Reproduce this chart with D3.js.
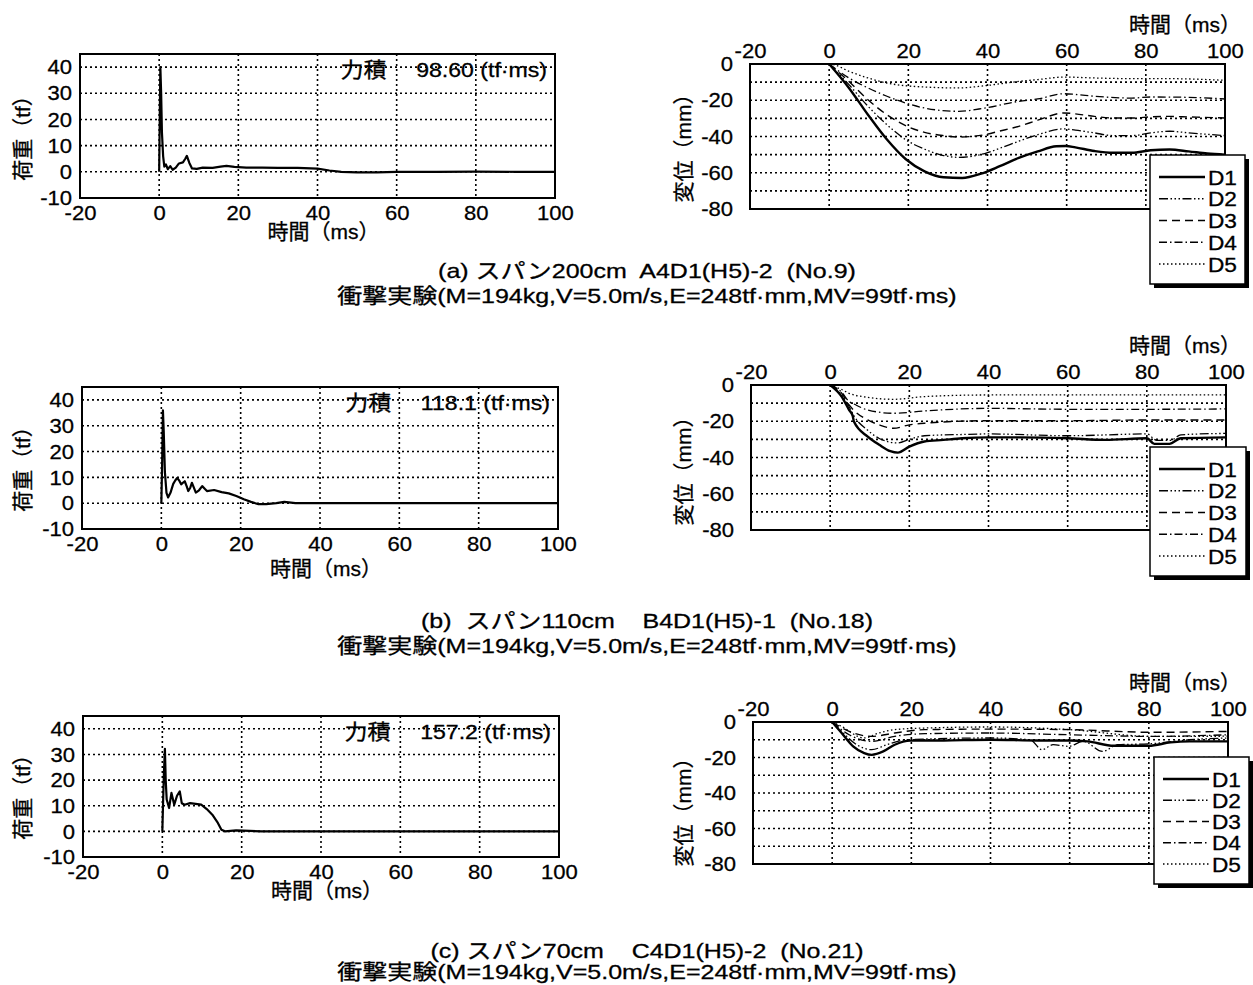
<!DOCTYPE html>
<html><head><meta charset="utf-8">
<script src="https://cdn.jsdelivr.net/npm/d3@7"></script>
<style>
body{margin:0;background:#fff;}
svg text{fill:#000;stroke:#000;stroke-width:0.3px;}
</style></head><body>
<svg id="c" width="1253" height="985"></svg>
<script>
// ---------------- DATA ----------------
const timeTicks = [-20, 0, 20, 40, 60, 80, 100];
const timeGrid = [0, 20, 40, 60, 80];
const loadTicks = [-10, 0, 10, 20, 30, 40];
const loadGrid = [0, 10, 20, 30, 40];
const dispTicks = [0, -20, -40, -60, -80];
const dispGrid = [-10, -20, -30, -40, -50, -60, -70];
const seriesNames = ["D1", "D2", "D3", "D4", "D5"];
const impulseLabels = ["力積　 98.60 (tf·ms)", "力積　 118.1 (tf·ms)", "力積　 157.2 (tf·ms)"];
const captionLine1 = [
  "(a) スパン200cm  A4D1(H5)-2  (No.9)",
  "(b)  スパン110cm    B4D1(H5)-1  (No.18)",
  "(c) スパン70cm    C4D1(H5)-2  (No.21)"
];
const captionLine2 = [
  "衝撃実験(M=194kg,V=5.0m/s,E=248tf·mm,MV=99tf·ms)",
  "衝撃実験(M=194kg,V=5.0m/s,E=248tf·mm,MV=99tf·ms)",
  "衝撃実験(M=194kg,V=5.0m/s,E=248tf·mm,MV=99tf·ms)"
];
const timeTitle = "時間（ms）";
const loadTitle = "荷重（tf）";
const dispTitle = "変位（mm）";

// load (tf) vs time (ms)
const loadA = [[0,0],[0.15,20],[0.3,40],[0.5,30],[0.7,15],[1.0,6],[1.3,2],[1.7,2.8],[2.2,1],[2.8,2.2],[3.4,0.8],[4.2,1.6],[5,3.2],[6,3.6],[6.6,5],[7,6.1],[7.6,3.5],[8.3,1.3],[9.5,1.1],[11,1.6],[13.5,1.5],[15.5,2],[17,2.3],[19,1.9],[22,1.6],[26,1.6],[30,1.5],[35,1.5],[40,1.2],[43,0.5],[46,0],[50,-0.2],[55,-0.2],[60,0],[70,0],[80,0.1],[90,0],[100,0]];
const loadB = [[0,0],[0.2,15],[0.4,36],[0.6,28],[0.9,12],[1.3,4],[1.7,2.2],[2.3,4],[3,7.5],[3.5,8.8],[4,9.8],[4.6,8.5],[5,7.3],[5.5,8],[5.9,8.5],[6.4,6.5],[6.8,4.7],[7.3,6],[7.7,7.9],[8.2,6],[8.7,4.1],[9.5,5],[10.3,6.6],[11,5.5],[11.5,4.7],[13.3,5.1],[15.2,4.3],[17,3.8],[18.9,2.8],[20.8,1.5],[22.6,0.5],[24.5,-0.4],[26.4,-0.4],[29,0],[31,0.5],[33.8,0],[40,0],[60,0],[80,0],[100,0]];
const loadC = [[0,0],[0.2,12],[0.4,22.8],[0.65,32.2],[0.85,20],[1.1,12.4],[1.7,9.1],[2.3,15],[3,10.4],[3.7,13.9],[4.4,15.6],[4.9,11],[5.6,10.4],[7,11],[8.4,10.7],[9.8,10.4],[11.2,8.7],[12.6,6.5],[14,3.3],[14.9,0.65],[15.8,0],[18.6,0.4],[22,0.2],[25,0],[40,0],[60,0],[80,0],[100,0]];

// displacement (mm) vs time (ms)
const dispA_D1 = [[0,0],[5,-13.2],[9.8,-28],[14.6,-41.7],[19.3,-52.4],[24.1,-59.2],[28.9,-62.5],[33.6,-62.9],[38.4,-60.5],[43.1,-56.4],[47.9,-51.8],[52.7,-48.2],[57.4,-45.4],[59.8,-45.2],[62.2,-46],[67,-48],[71.7,-49],[76.5,-49],[81.2,-47.6],[86,-47.2],[90.8,-48.2],[95.5,-49.4],[100,-50]];
const dispA_D2 = [[0,0],[5,-11.4],[9.8,-23.3],[14.6,-33.5],[19.3,-41.7],[24.1,-47],[28.9,-50.5],[32.7,-51.5],[39.3,-49.4],[43.1,-46.5],[47.9,-42.6],[52.7,-39],[59.3,-35.8],[62.2,-36.5],[67,-38],[71.7,-39.5],[76.5,-39.5],[81.2,-38],[86,-37.1],[90.8,-38],[100,-39.5]];
const dispA_D3 = [[0,0],[5,-9.6],[9.8,-19.7],[14.6,-28],[19.3,-34],[24.1,-37.7],[28.9,-39.5],[32.7,-40.3],[39.3,-39],[43.1,-37],[47.9,-34.4],[52.7,-31],[59.3,-27],[62.2,-27.5],[67,-28.9],[71.7,-29.8],[76.5,-29.8],[81.2,-29.2],[86,-28.9],[90.8,-29.2],[100,-29.8]];
const dispA_D4 = [[0,0],[5,-7.7],[9.8,-13.2],[14.6,-17.8],[19.3,-21.5],[24.1,-24.3],[32.7,-26.1],[39.3,-24.3],[47.9,-20.6],[52.7,-19.3],[59.3,-16.4],[62.2,-16.8],[67,-17.8],[76.5,-18.8],[81.2,-18.2],[90.8,-18.4],[100,-19.3]];
const dispA_D5 = [[0,0],[1.2,-0.4],[5,-4],[9.8,-7.7],[14.6,-10.5],[19.3,-12],[24.1,-12.7],[32.7,-13.2],[39.3,-12],[47.9,-9.6],[52.7,-8.6],[59.3,-7.2],[67,-7.7],[76.5,-8.1],[86,-8.1],[100,-9]];

const dispB_D1 = [[0,0],[2.9,-6.4],[4.8,-13.8],[5.7,-17],[6,-20.2],[9.5,-28.5],[12.4,-33],[15.2,-36.5],[17.1,-37.3],[20,-34],[23.8,-31.2],[28.6,-30.3],[33.3,-29.4],[40,-28.9],[47.6,-28.9],[60,-29.4],[69.5,-30.3],[80,-29.4],[81.9,-32.5],[85.7,-32.5],[88.6,-29.4],[100,-28.9]];
const dispB_D2 = [[0,0],[2.9,-5.5],[4.8,-12],[6,-17],[9.5,-25],[12.4,-29.5],[17.1,-32],[20,-30],[23.8,-28],[33.3,-27.3],[40,-27],[60,-28],[80,-27],[82.5,-30.5],[86,-30.5],[88.6,-27.5],[100,-26.7]];
const dispB_D3 = [[0,0],[2.9,-4.5],[4.8,-11],[6,-14],[9.5,-19.3],[12.4,-22],[16,-23.9],[20,-22],[23.8,-21.1],[40,-19.7],[60,-19.7],[80,-19.3],[100,-19.3]];
const dispB_D4 = [[0,0],[2.9,-4],[4.8,-9.2],[6,-10.5],[9.5,-13.8],[16,-15.6],[23.8,-14.3],[40,-12.9],[60,-13.4],[80,-13.4],[100,-13.2]];
const dispB_D5 = [[0,0],[2.9,-2.5],[4.8,-4.6],[9.5,-6.8],[16,-7.9],[23.8,-6.4],[40,-5.5],[60,-5.5],[80,-5.5],[100,-5.5]];

const dispC_D1 = [[0,0],[2.4,-6.2],[5.3,-13.7],[8.1,-17.5],[10,-18.5],[12.9,-16.6],[15.8,-12.8],[19.8,-10.5],[28.2,-10.4],[40,-10],[52,-10.4],[60,-10.4],[64.5,-10.9],[71.2,-13.4],[80,-13.4],[85.5,-11.5],[90.3,-10.9],[100,-10.9]];
const dispC_D2 = [[0,0],[2.4,-5.3],[6.2,-12.8],[10,-15.6],[13.8,-12.8],[18.6,-10],[40,-9],[50,-10],[53,-15.6],[55.8,-12.8],[59.7,-13.7],[63.5,-10.9],[68.3,-16.6],[72.1,-12.8],[80,-12.3],[90.3,-10],[100,-9]];
const dispC_D3 = [[0,0],[4.3,-5.3],[10,-8.1],[15.8,-6.2],[23.4,-4.3],[40,-4],[60,-4.3],[80.7,-5.8],[100,-5.3]];
const dispC_D4 = [[0,0],[4.3,-7.2],[10,-10.9],[15.8,-8.1],[23.4,-6.6],[40,-6.2],[60,-7.2],[80.7,-8.1],[100,-7.2]];
const dispC_D5 = [[0,0],[2.4,-2.5],[8,-9],[11.8,-6.2],[15.8,-4.3],[23.4,-3.4],[40,-2.8],[60,-4.3],[80.7,-8.1],[100,-8]];

const loads = [loadA, loadB, loadC];
const disps = [
  [dispA_D1, dispA_D2, dispA_D3, dispA_D4, dispA_D5],
  [dispB_D1, dispB_D2, dispB_D3, dispB_D4, dispB_D5],
  [dispC_D1, dispC_D2, dispC_D3, dispC_D4, dispC_D5]
];

// ---------------- LAYOUT / STYLE ----------------
const FONT = '"Liberation Sans", Arial, "Noto Sans CJK JP", sans-serif';
const layout = [
  {L:{x0:80,x1:555,y0:54,y1:198}, R:{x0:750,x1:1225,y0:64,y1:209}, leg:{x:1150,y:155,w:95,h:129}, cap:[270,295], ltY:231, lyc:133, ryc:143},
  {L:{x0:82,x1:558,y0:387,y1:529}, R:{x0:751,x1:1226,y0:385,y1:530}, leg:{x:1150,y:447,w:96,h:129}, cap:[620,645], ltY:568, lyc:464, ryc:466},
  {L:{x0:83,x1:559,y0:716,y1:857}, R:{x0:753,x1:1228,y0:722,y1:864}, leg:{x:1154,y:757,w:95,h:127}, cap:[950,971], ltY:890, lyc:792, ryc:807}
];
const seriesStyle = [
  {w:2.4, dash:null},
  {w:1.3, dash:"9,2.5,1.5,2.5,1.5,2.5,1.5,2.5"},
  {w:1.4, dash:"8,5"},
  {w:1.3, dash:"8,3,1.5,3"},
  {w:1.3, dash:"1.5,2.5"}
];
const TICK_SIZE = 21, TICK_SX = 1.05;
const fmt = d => String(d);   // plain hyphen-minus, as in the original

const svg = d3.select("#c");

function label(parent, x, y, str, o = {}) {
  const size = o.size || 21, sx = o.sx || 1, rot = o.rotate || 0;
  return parent.append("text")
    .attr("transform", `translate(${x},${y}) rotate(${rot}) scale(${sx},1)`)
    .attr("text-anchor", o.anchor || "middle")
    .attr("dy", o.dy || "0.36em")
    .attr("xml:space", "preserve")
    .style("white-space", "pre")
    .style("font-family", FONT)
    .style("font-size", size + "px")
    .text(str);
}

function styleAxis(g, sx) {
  g.attr("font-family", FONT).attr("font-size", TICK_SIZE);
  g.select(".domain").remove();
  g.selectAll(".tick line").remove();
  g.selectAll("text").attr("fill", "#000").attr("transform", `scale(${sx},1)`);
}

function grid(g, x, y, xs, ys, b) {
  g.selectAll(null).data(ys).join("line")
    .attr("x1", b.x0).attr("x2", b.x1).attr("y1", d => y(d)).attr("y2", d => y(d))
    .attr("stroke", "#000").attr("stroke-width", 1.6).attr("stroke-dasharray", "2,3");
  g.selectAll(null).data(xs).join("line")
    .attr("y1", b.y0).attr("y2", b.y1).attr("x1", d => x(d)).attr("x2", d => x(d))
    .attr("stroke", "#000").attr("stroke-width", 1.6).attr("stroke-dasharray", "2,3");
}

layout.forEach((lay, i) => {
  // ---------- left: load ----------
  const L = lay.L;
  const gl = svg.append("g");
  const xl = d3.scaleLinear().domain([-20, 100]).range([L.x0, L.x1]);
  const yl = d3.scaleLinear().domain([-10, 45]).range([L.y1, L.y0]);
  grid(gl, xl, yl, timeGrid, loadGrid, L);
  gl.append("path").datum(loads[i])
    .attr("d", d3.line().x(d => xl(d[0])).y(d => yl(d[1])))
    .attr("fill", "none").attr("stroke", "#000").attr("stroke-width", 2.2).attr("stroke-linejoin", "round");
  gl.append("rect").attr("x", L.x0).attr("y", L.y0).attr("width", L.x1 - L.x0).attr("height", L.y1 - L.y0)
    .attr("fill", "none").attr("stroke", "#000").attr("stroke-width", 2);
  const ayl = gl.append("g").attr("transform", `translate(${L.x0},0)`)
    .call(d3.axisLeft(yl).tickValues(loadTicks).tickFormat(fmt).tickSize(0).tickPadding(8 / TICK_SX));
  styleAxis(ayl, TICK_SX);
  const axl = gl.append("g").attr("transform", `translate(0,${L.y1})`)
    .call(d3.axisBottom(xl).tickValues(timeTicks).tickFormat(fmt).tickSize(0).tickPadding(7.5));
  styleAxis(axl, TICK_SX);
  label(gl, (L.x0 + L.x1) / 2 + 6, lay.ltY, timeTitle, {size: 21});
  label(gl, 22, lay.lyc, loadTitle, {size: 21, rotate: -90});
  label(gl, L.x1 - 8, L.y0 + 15, impulseLabels[i], {size: 21, sx: 1.1, anchor: "end"});

  // ---------- right: displacement ----------
  const R = lay.R;
  const gr = svg.append("g");
  const xr = d3.scaleLinear().domain([-20, 100]).range([R.x0, R.x1]);
  const yr = d3.scaleLinear().domain([-80, 0]).range([R.y1, R.y0]);
  grid(gr, xr, yr, timeGrid, dispGrid, R);
  const line = d3.line().x(d => xr(d[0])).y(d => yr(d[1])).curve(d3.curveMonotoneX);
  disps[i].forEach((s, k) => {
    gr.append("path").datum(s).attr("d", line)
      .attr("fill", "none").attr("stroke", "#000")
      .attr("stroke-width", seriesStyle[k].w)
      .attr("stroke-dasharray", seriesStyle[k].dash);
  });
  gr.append("rect").attr("x", R.x0).attr("y", R.y0).attr("width", R.x1 - R.x0).attr("height", R.y1 - R.y0)
    .attr("fill", "none").attr("stroke", "#000").attr("stroke-width", 2);
  const ayr = gr.append("g").attr("transform", `translate(${R.x0},0)`)
    .call(d3.axisLeft(yr).tickValues(dispTicks).tickFormat(fmt).tickSize(0).tickPadding(17 / TICK_SX));
  styleAxis(ayr, TICK_SX);
  const axr = gr.append("g").attr("transform", `translate(0,${R.y0})`)
    .call(d3.axisTop(xr).tickValues(timeTicks).tickFormat(fmt).tickSize(0).tickPadding(6.5));
  styleAxis(axr, TICK_SX);
  label(gr, 1241, R.y0 - 40, timeTitle, {size: 21, anchor: "end"});
  label(gr, 683, lay.ryc, dispTitle, {size: 21, rotate: -90});

  // legend
  const lg = lay.leg;
  const gL = gr.append("g");
  gL.append("rect").attr("x", lg.x + 4).attr("y", lg.y + 4).attr("width", lg.w).attr("height", lg.h).attr("fill", "#000");
  gL.append("rect").attr("x", lg.x).attr("y", lg.y).attr("width", lg.w).attr("height", lg.h)
    .attr("fill", "#fff").attr("stroke", "#000").attr("stroke-width", 1.5);
  seriesNames.forEach((nm, k) => {
    const yy = lg.y + 22 + k * ((lg.h - 42) / 4);
    gL.append("line").attr("x1", lg.x + 9).attr("x2", lg.x + 55).attr("y1", yy).attr("y2", yy)
      .attr("stroke", "#000").attr("stroke-width", seriesStyle[k].w).attr("stroke-dasharray", seriesStyle[k].dash);
    label(gL, lg.x + 58, yy, nm, {size: 21, sx: 1.08, anchor: "start"});
  });

  // captions
  label(svg, 647, lay.cap[0], captionLine1[i], {size: 21, sx: 1.19});
  label(svg, 647, lay.cap[1], captionLine2[i], {size: 21, sx: 1.19});
});
</script>
</body></html>
